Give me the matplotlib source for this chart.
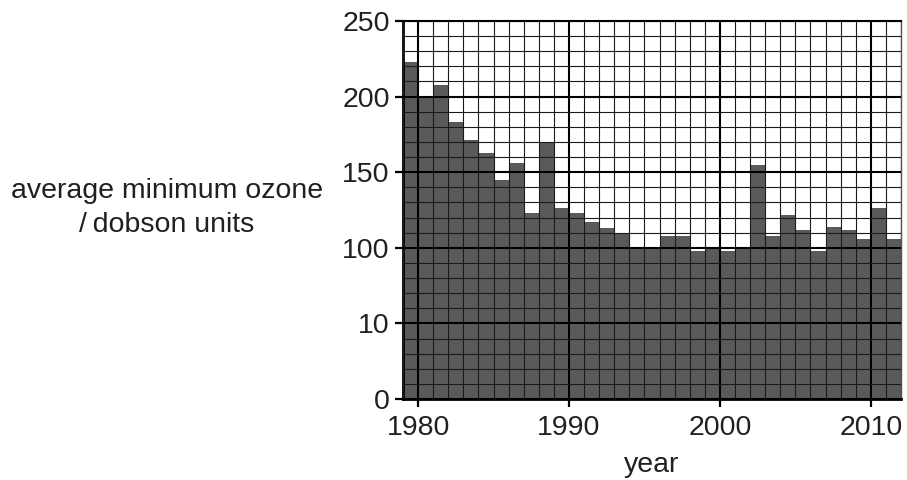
import numpy as np
import matplotlib
matplotlib.use('Agg')
import matplotlib.pyplot as plt
from matplotlib.ticker import FixedLocator

years = list(range(1979, 2012))
ozone = [223, 200, 208, 183, 171, 163, 145, 156, 123, 170,
         126, 123, 117, 113, 110, 100, 100, 108, 108, 96,
         100, 96, 100, 155, 108, 122, 112, 96, 114, 112,
         106, 126, 106]
y_ticks = [0, 10, 100, 150, 200, 250]
y_minor = [2, 4, 6, 8, 28, 46, 64, 82, 110, 120, 130, 140, 160, 170, 180, 190,
           210, 220, 230, 240]
x_ticks = [1980, 1990, 2000, 2010]
x_minor = list(range(1979, 2013))
ylabel = "average minimum ozone\n/\u2009dobson units"
xlabel = "year"

plt.rcParams['font.family'] = ['Liberation Sans', 'DejaVu Sans']
TXT = '#231f20'


def fwd(v):
    v = np.asarray(v, dtype=float)
    return np.where(v <= 10, v / 10.0,
                    np.where(v <= 100, 1 + (v - 10) / 90.0, 2 + (v - 100) / 50.0))


def inv(t):
    t = np.asarray(t, dtype=float)
    return np.where(t <= 1, t * 10.0,
                    np.where(t <= 2, 10 + (t - 1) * 90.0, 100 + (t - 2) * 50.0))


fig = plt.figure(figsize=(9.07, 4.8), dpi=100)
ax = fig.add_axes([403 / 907, 81 / 480, (901 - 403) / 907, (399 - 21) / 480])
ax.set_yscale('function', functions=(fwd, inv))

ax.bar(years, ozone, width=1.0, align='edge', color='#5a5a5a', linewidth=0, zorder=1)

ax.set_xlim(1979, 2012)
ax.set_ylim(0, 250)
ax.yaxis.set_major_locator(FixedLocator(y_ticks))
ax.yaxis.set_minor_locator(FixedLocator(y_minor))
ax.set_yticklabels([str(v) for v in y_ticks])
ax.xaxis.set_major_locator(FixedLocator(x_ticks))
ax.xaxis.set_minor_locator(FixedLocator(x_minor))
ax.set_xticklabels([str(v) for v in x_ticks])

ax.set_axisbelow(False)
ax.grid(which='minor', color='#1a1a1a', linewidth=0.8)
ax.grid(which='major', color='#000000', linewidth=1.5)

ax.tick_params(which='major', direction='out', length=5.5, width=1.6, color='black',
               labelsize=20.5, labelcolor=TXT)
ax.tick_params(axis='x', which='major', pad=6)
ax.tick_params(axis='y', which='major', pad=4)
ax.tick_params(which='minor', length=0)

for side in ['left', 'bottom']:
    ax.spines[side].set_linewidth(2.0)
    ax.spines[side].set_color('black')
ax.spines['top'].set_linewidth(1.5)
ax.spines['top'].set_color('black')
ax.spines['right'].set_linewidth(1.0)
ax.spines['right'].set_color('#555555')

ax.set_xlabel(xlabel, fontsize=20.5, color=TXT, labelpad=8)
fig.text(167 / 907, 1 - 208 / 480, ylabel, fontsize=20.5, color=TXT,
         ha='center', va='center', linespacing=1.45)

fig.savefig('out.png', dpi=100)
